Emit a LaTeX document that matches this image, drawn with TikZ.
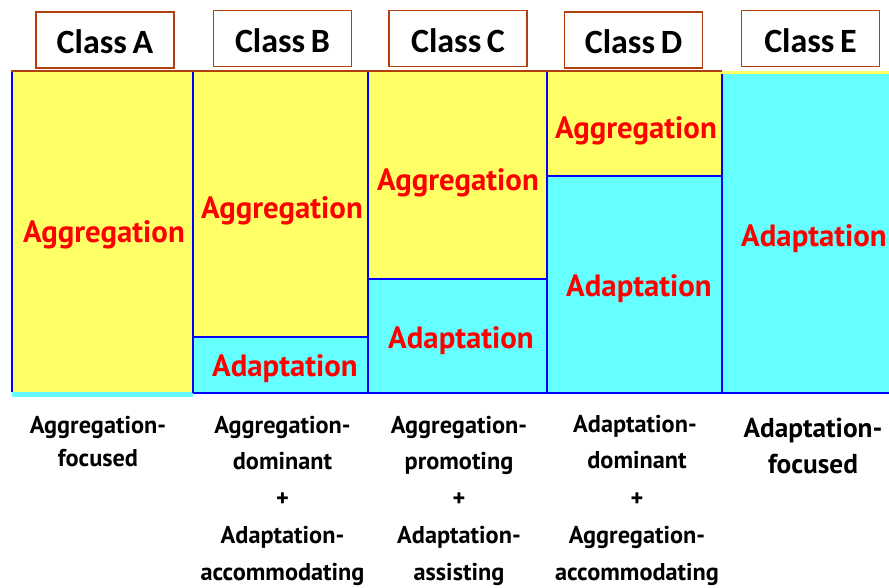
\documentclass[tikz,border=0pt]{standalone}
\usepackage{fontspec}
\setmainfont{PT Sans}
\newfontfamily\hdrfont{Carlito}
\definecolor{yel}{HTML}{FFFF66}
\definecolor{cya}{HTML}{66FFFF}
\definecolor{blu}{HTML}{0000FF}
\definecolor{rd}{HTML}{FF0000}
\definecolor{brn}{HTML}{B0400F}
\tikzset{
  hdr/.style={draw=brn, line width=1.6pt, fill=white, minimum width=138pt, minimum height=56pt, inner sep=0pt},
  hdrtext/.style={font=\hdrfont\bfseries\fontsize{34}{34}\selectfont, anchor=base, inner sep=0pt},
  redlbl/.style={font=\bfseries\fontsize{30.8}{30.8}\selectfont, text=rd, anchor=base, inner sep=0pt},
  botlbl/.style={font=\bfseries\fontsize{24.3}{24.3}\selectfont, anchor=base, inner sep=0pt},
  botlblE/.style={font=\bfseries\fontsize{27.3}{27.3}\selectfont, anchor=base, inner sep=0pt},
  bline/.style={blu, line width=2pt},
}
\begin{document}
\begin{tikzpicture}[x=1pt,y=-1pt]
\useasboundingbox (0,0) rectangle (889,587);
% fills
\fill[yel] (12,71) rectangle (193,392);
\fill[cya] (12,392) rectangle (193,397);
\fill[yel] (193,71) rectangle (368,337);
\fill[cya] (193,337) rectangle (368,393);
\fill[yel] (368,71) rectangle (547,279);
\fill[cya] (368,279) rectangle (547,393);
\fill[yel] (547,71) rectangle (722,176);
\fill[cya] (547,176) rectangle (722,393);
\fill[yel] (722,71) rectangle (889,74);
\fill[cya] (722,74) rectangle (889,393);
% blue lines
\draw[bline] (12,71) -- (12,392);
\draw[bline] (193,71) -- (193,393);
\draw[bline] (368,71) -- (368,393);
\draw[bline] (547,71) -- (547,393);
\draw[bline] (722,74) -- (722,393);
\draw[bline] (193,393) -- (889,393);
\draw[bline] (193,337) -- (368,337);
\draw[bline] (368,279) -- (547,279);
\draw[bline] (547,176) -- (722,176);
% brown top
\draw[brn, line width=2pt] (11,71) -- (722,71);
% headers
\node[hdr] (hA) at (105,40) {};
\node[hdr] (hB) at (282.5,38.5) {};
\node[hdr] (hC) at (458,38.5) {};
\node[hdr] (hD) at (633.5,40) {};
\node[hdr] (hE) at (810.5,38.5) {};
\node[hdrtext] (tA) at (105,53) {Class\,A};
\node[hdrtext] (tB) at (282.5,52) {Class\,B};
\node[hdrtext] (tC) at (458,52) {Class\,C};
\node[hdrtext] (tD) at (633.5,53) {Class\,D};
\node[hdrtext] (tE) at (810.5,52) {Class\,E};
% red labels
\node[redlbl] (rA) at (104,242) {Aggregation};
\node[redlbl] (rB1) at (282,218) {Aggregation};
\node[redlbl] (rB2) at (285,376) {Adaptation};
\node[redlbl] (rC1) at (458,190) {Aggregation};
\node[redlbl] (rC2) at (461,348) {Adaptation};
\node[redlbl] (rD1) at (636,138) {Aggregation};
\node[redlbl] (rD2) at (639,296) {Adaptation};
\node[redlbl] (rE) at (814,246) {Adaptation};
% bottom labels
\node[botlbl] (bA1) at (98,433) {Aggregation-};
\node[botlbl] (bA2) at (98,466) {focused};
\node[botlbl] (bB1) at (282.5,433) {Aggregation-};
\node[botlbl] (bB2) at (282.5,469.5) {dominant};
\node[botlbl] (bB3) at (282.5,506) {+};
\node[botlbl] (bB4) at (282.5,543.5) {Adaptation-};
\node[botlbl] (bB5) at (282.5,580) {accommodating};
\node[botlbl] (bC1) at (459,433) {Aggregation-};
\node[botlbl] (bC2) at (459,469.5) {promoting};
\node[botlbl] (bC3) at (459,506) {+};
\node[botlbl] (bC4) at (459,543.5) {Adaptation-};
\node[botlbl] (bC5) at (459,580) {assisting};
\node[botlbl] (bD1) at (635,432) {Adaptation-};
\node[botlbl] (bD2) at (637,468.5) {dominant};
\node[botlbl] (bD3) at (637,506) {+};
\node[botlbl] (bD4) at (637,543) {Aggregation-};
\node[botlbl] (bD5) at (637,580) {accommodating};
\node[botlblE] (bE1) at (813,437) {Adaptation-};
\node[botlblE] (bE2) at (813,473) {focused};
\end{tikzpicture}
\end{document}
